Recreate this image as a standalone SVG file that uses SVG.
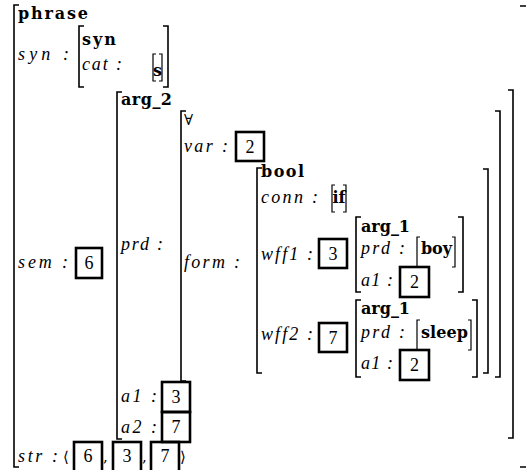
<svg xmlns="http://www.w3.org/2000/svg" width="526" height="470" viewBox="0 0 526 470">
<style>
.br{fill:none;stroke:#000;stroke-width:1.6}
.sbr{fill:none;stroke:#000;stroke-width:1.2}
.bx{fill:none;stroke:#000;stroke-width:2.6}
.ty{font-family:"DejaVu Serif","Liberation Serif",serif;font-weight:bold;font-size:16px}
.ft{font-family:"Liberation Serif","DejaVu Serif",serif;font-style:italic;font-size:18px}
.nm{font-family:"Liberation Serif","DejaVu Serif",serif;font-size:18px;text-anchor:middle}
.sy{font-family:"DejaVu Serif","Liberation Serif",serif;font-size:15px}
</style>
<rect width="526" height="470" fill="#fff"/>
<g id="phrase">
<path class="br" d="M19,5 H14 V467 H19"/>
<path class="br" d="M520,6 H527 V467 H520"/>
<text class="ty" x="18" y="19" textLength="70" lengthAdjust="spacing">phrase</text>
<text class="ft" x="18" y="60" textLength="51" lengthAdjust="spacing">syn :</text>
<text class="ft" x="18" y="268" textLength="50" lengthAdjust="spacing">sem :</text>
<rect class="bx" x="76" y="248" width="26" height="30"/>
<text class="nm" x="89" y="269">6</text>
<text class="ft" x="18" y="462" textLength="40" lengthAdjust="spacing">str :</text>
<text class="sy" x="63" y="462">⟨</text>
<rect class="bx" x="74" y="442" width="28" height="32"/>
<text class="nm" x="88" y="462">6</text>
<text class="sy" x="103" y="462">,</text>
<rect class="bx" x="113" y="442" width="28" height="32"/>
<text class="nm" x="127" y="462">3</text>
<text class="sy" x="142" y="462">,</text>
<rect class="bx" x="151" y="442" width="28" height="32"/>
<text class="nm" x="165" y="462">7</text>
<text class="sy" x="180" y="462">⟩</text>
</g>
<g id="syn">
<path class="br" d="M84,26 H79 V87 H84"/>
<path class="br" d="M163,26 H168 V87 H163"/>
<text class="ty" x="82" y="45" textLength="34" lengthAdjust="spacing">syn</text>
<text class="ft" x="82" y="70" textLength="40" lengthAdjust="spacing">cat :</text>
<path class="sbr" d="M156,54 H153 V81 H156"/>
<path class="sbr" d="M159,54 H162 V81 H159"/>
<text class="ty" x="157.5" y="76" text-anchor="middle">s</text>
</g>
<g id="arg2">
<path class="br" d="M122,92 H117 V439 H122"/>
<path class="br" d="M508,90 H513 V438 H508"/>
<text class="ty" x="121" y="105" textLength="51" lengthAdjust="spacing">arg_2</text>
<text class="ft" x="121" y="250" textLength="42" lengthAdjust="spacing">prd :</text>
<text class="ft" x="121" y="402" textLength="36" lengthAdjust="spacing">a1 :</text>
<text class="ft" x="121" y="433" textLength="36" lengthAdjust="spacing">a2 :</text>
</g>
<g id="forall">
<path class="br" d="M186,111 H181 V381 H186"/>
<path class="br" d="M495,111 H500 V377 H495"/>
<text class="sy" x="184" y="125">∀</text>
<text class="ft" x="184" y="152" textLength="44" lengthAdjust="spacing">var :</text>
<rect class="bx" x="236" y="132" width="28" height="29"/>
<text class="nm" x="250" y="153">2</text>
<text class="ft" x="184" y="268" textLength="56" lengthAdjust="spacing">form :</text>
</g>
<g id="a1box">
<rect class="bx" x="162" y="382" width="28" height="30"/>
<text class="nm" x="176" y="403">3</text>
</g>
<g id="a2box">
<rect class="bx" x="162" y="412" width="28" height="30"/>
<text class="nm" x="176" y="433">7</text>
</g>
<g id="bool">
<path class="br" d="M262,168 H257 V373 H262"/>
<path class="br" d="M483,169 H488 V373 H483"/>
<text class="ty" x="261" y="177" textLength="43" lengthAdjust="spacing">bool</text>
<text class="ft" x="261" y="203" textLength="57" lengthAdjust="spacing">conn :</text>
<path class="sbr" d="M335,185 H332 V212 H335"/>
<path class="sbr" d="M343,185 H346 V212 H343"/>
<text class="ty" x="339" y="203" text-anchor="middle">if</text>
<text class="ft" x="261" y="260" textLength="52" lengthAdjust="spacing">wff1 :</text>
<rect class="bx" x="319" y="239" width="28" height="29"/>
<text class="nm" x="333" y="260">3</text>
<text class="ft" x="261" y="340" textLength="52" lengthAdjust="spacing">wff2 :</text>
<rect class="bx" x="319" y="323" width="28" height="29"/>
<text class="nm" x="333" y="344">7</text>
</g>
<g id="arg1-boy">
<path class="br" d="M361,217 H356 V292 H361"/>
<path class="br" d="M458,217 H463 V292 H458"/>
<text class="ty" x="361" y="232" textLength="49" lengthAdjust="spacing">arg_1</text>
<text class="ft" x="361" y="254" textLength="44" lengthAdjust="spacing">prd :</text>
<path class="sbr" d="M420,237 H417 V267 H420"/>
<path class="sbr" d="M452,237 H455 V267 H452"/>
<text class="ty" x="421" y="254" textLength="31" lengthAdjust="spacing">boy</text>
<text class="ft" x="361" y="286" textLength="32" lengthAdjust="spacing">a1 :</text>
<rect class="bx" x="400" y="267" width="29" height="30"/>
<text class="nm" x="414.5" y="288">2</text>
</g>
<g id="arg1-sleep">
<path class="br" d="M361,300 H356 V377 H361"/>
<path class="br" d="M472,300 H477 V377 H472"/>
<text class="ty" x="361" y="314" textLength="49" lengthAdjust="spacing">arg_1</text>
<text class="ft" x="361" y="338" textLength="44" lengthAdjust="spacing">prd :</text>
<path class="sbr" d="M420,320 H417 V350 H420"/>
<path class="sbr" d="M468,320 H471 V350 H468"/>
<text class="ty" x="421" y="338" textLength="47" lengthAdjust="spacing">sleep</text>
<text class="ft" x="361" y="369" textLength="32" lengthAdjust="spacing">a1 :</text>
<rect class="bx" x="400" y="350" width="29" height="30"/>
<text class="nm" x="414.5" y="371">2</text>
</g>
</svg>
